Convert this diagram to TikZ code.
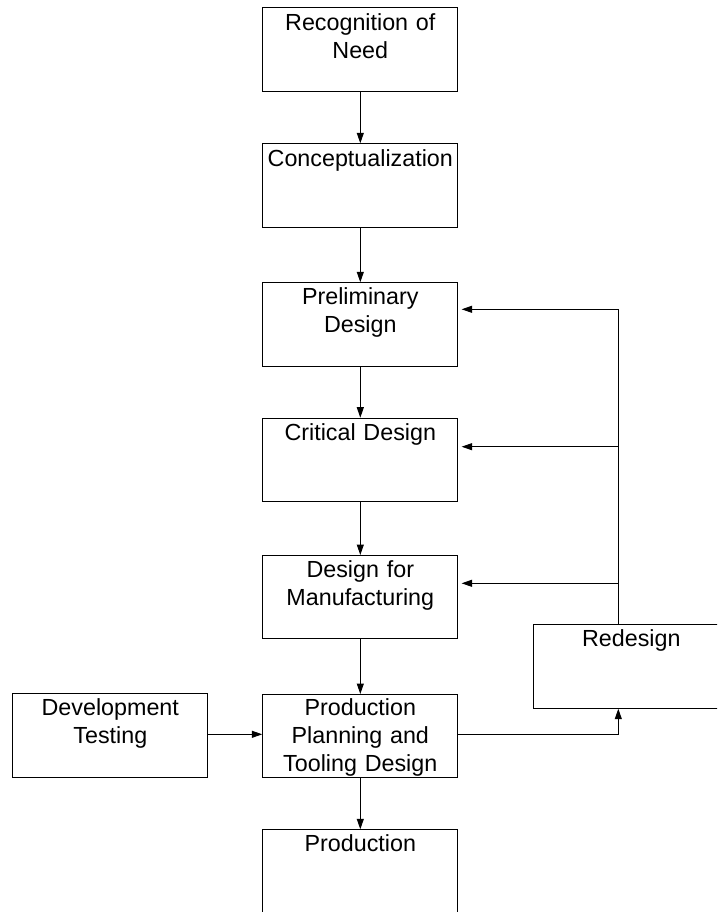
\documentclass[tikz,border=0pt]{standalone}
\usepackage{fontspec}
\setmainfont{Liberation Sans}
\usetikzlibrary{arrows.meta}
\tikzset{
  box/.style={draw, line width=1pt, minimum width=195pt, minimum height=83.4pt, inner sep=0pt, anchor=north west},
  lbl/.style={anchor=base, text width=240pt, align=center, inner sep=0pt, font=\fontsize{23.3}{28}\selectfont},
  arr/.style={line width=1pt, -{Triangle[length=10.5pt,width=7pt]}},
  ln/.style={line width=1pt}
}
\begin{document}
\begin{tikzpicture}[x=1pt,y=-1pt]
\clip (0,0) rectangle (717,912);
\fill[white] (0,0) rectangle (717,912);
% boxes
\node[box] (rec)  at (262.3,7.3)   {};
\node[box] (con)  at (262.3,143.3) {};
\node[box] (pd)   at (262.3,282.3) {};
\node[box] (cd)   at (262.3,417.7) {};
\node[box] (dfm)  at (262.3,555.0) {};
\node[box] (pptd) at (262.3,694.0) {};
\node[box] (prod) at (262.3,829.3) {};
\node[box] (dev)  at (12.3,693.3)  {};
\node[box] (red)  at (533.3,624.3) {};
% texts
\node[lbl] (rec-t)  at ([yshift=-23pt]rec.north)  {Recognition of\\Need};
\node[lbl] (con-t)  at ([yshift=-23pt]con.north)  {Conceptualization};
\node[lbl] (pd-t)   at ([yshift=-22.5pt]pd.north)   {Preliminary\\Design};
\node[lbl] (cd-t)   at ([yshift=-22.5pt]cd.north)   {Critical Design};
\node[lbl] (dfm-t)  at ([yshift=-22.3pt]dfm.north)  {Design for\\Manufacturing};
\node[lbl] (pptd-t) at ([yshift=-21.5pt]pptd.north) {Production\\Planning and\\Tooling Design};
\node[lbl] (prod-t) at ([yshift=-21.7pt]prod.north) {Production};
\node[lbl] (dev-t)  at ([yshift=-21.7pt]dev.north)  {Development\\Testing};
\node[lbl] (red-t)  at ([yshift=-21.7pt]red.north)  {Redesign};
% main chain
\draw[arr] (rec) -- (con);
\draw[arr] (con) -- (pd);
\draw[arr] (pd) -- (cd);
\draw[arr] (cd) -- (dfm);
\draw[arr] (dfm) -- (pptd);
\draw[arr] (pptd) -- (prod);
% side connections
\coordinate (row) at (0,734.3);
\coordinate (fb) at (618.3,0);
\draw[arr] (dev.east |- row) -- (pptd.west |- row);
\draw[arr] (pptd.east |- row) -- (fb |- row) -- (fb |- red.south);
% feedback
\coordinate (pda) at ([yshift=-27pt]pd.north east);
\coordinate (cda) at ([yshift=-29pt]cd.north east);
\coordinate (dfma) at ([yshift=-28.3pt]dfm.north east);
\draw[ln] (fb |- red.north) -- (fb |- pda);
\draw[arr, shorten >=3.3pt] (fb |- pda) -- (pda);
\draw[arr, shorten >=3.3pt] (fb |- cda) -- (cda);
\draw[arr, shorten >=3.3pt] (fb |- dfma) -- (dfma);
\end{tikzpicture}
\end{document}
